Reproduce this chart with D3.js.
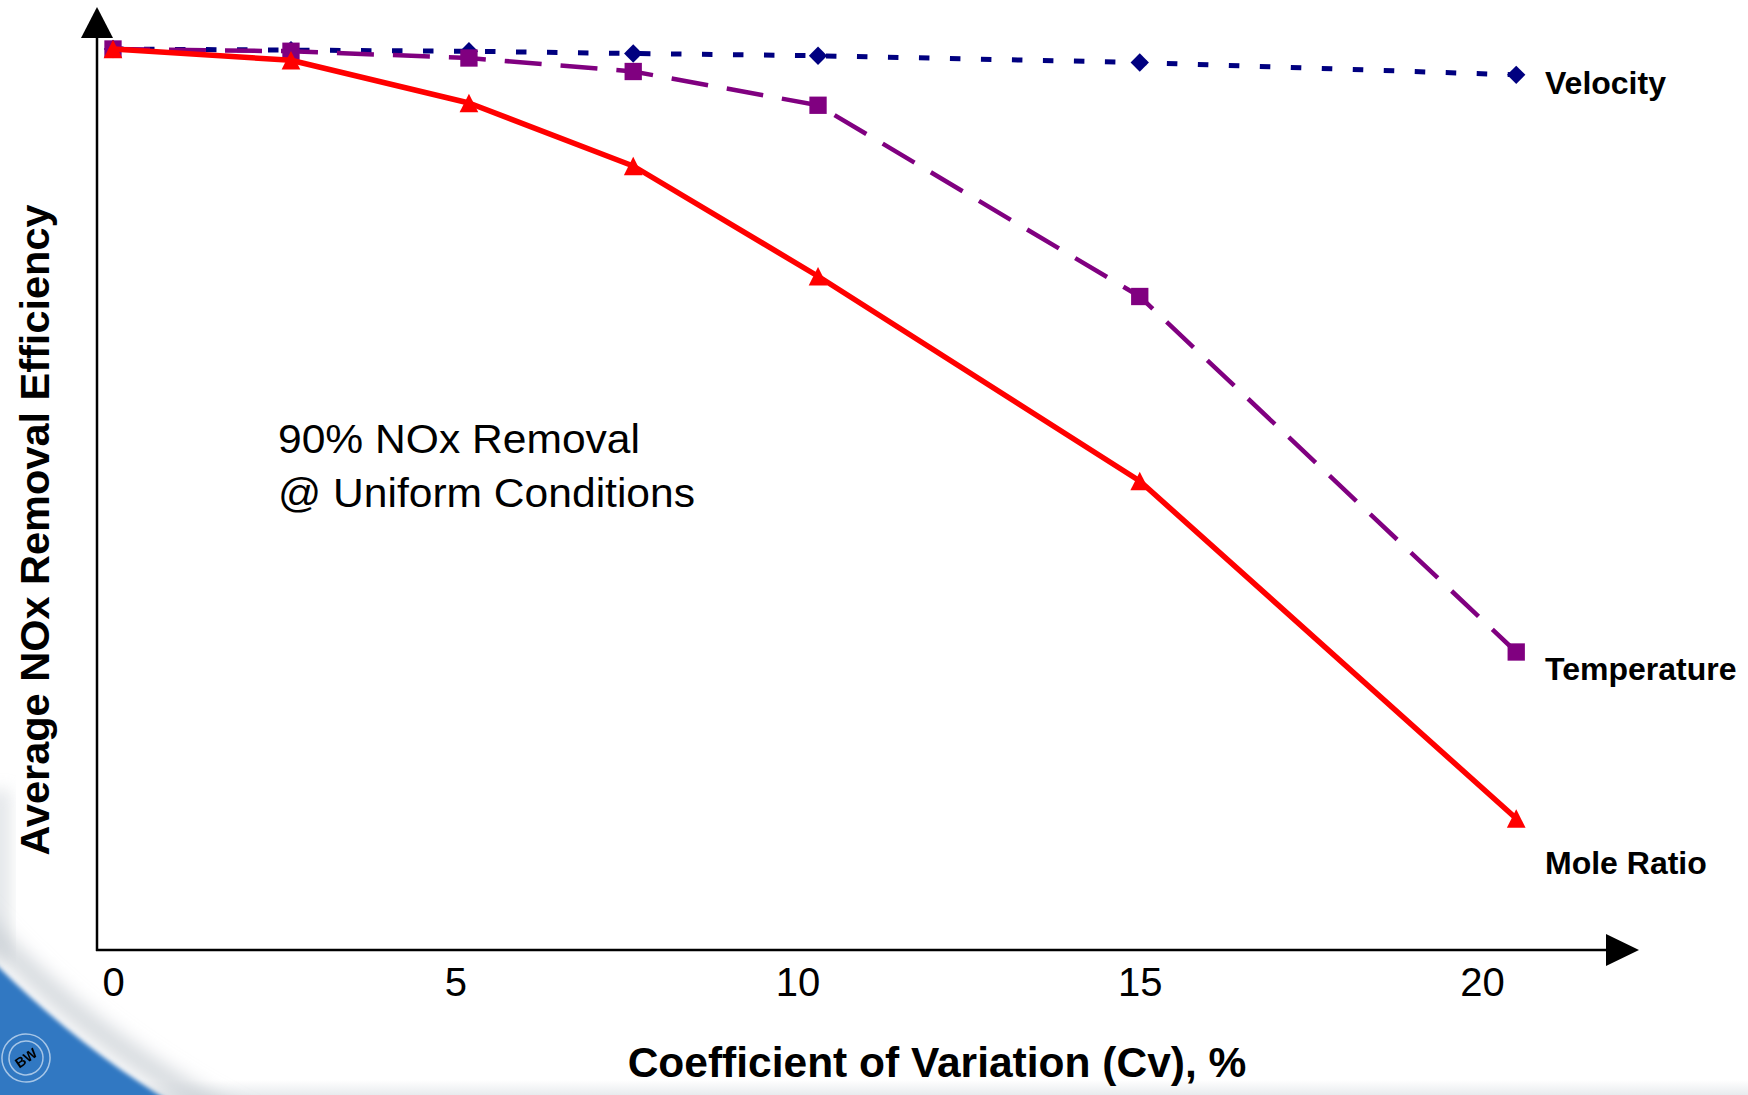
<!DOCTYPE html>
<html>
<head>
<meta charset="utf-8">
<script src="https://cdn.jsdelivr.net/npm/d3@7/dist/d3.min.js"></script>
<style>
  html, body { margin: 0; padding: 0; background: #ffffff; }
  svg { display: block; }
  text { font-family: "Liberation Sans", Arial, Helvetica, sans-serif; fill: #000; }
</style>
</head>
<body>
<svg id="chart" width="1748" height="1095"></svg>
<script>
// Coefficient of variation (%) at which each case was evaluated
const cv = [0, 2.6, 5.2, 7.6, 10.3, 15, 20.5];
// Average NOx removal efficiency (%) for each maldistribution type
const velocity    = [90, 89.95, 89.9, 89.8, 89.7, 89.4, 88.85];
const temperature = [90, 89.9, 89.6, 89.0, 87.5, 79.0, 63.2];
const moleRatio   = [90, 89.5, 87.6, 84.8, 79.9, 70.8, 55.8];
const seriesNames = ["Velocity", "Temperature", "Mole Ratio"];
const xTicks = [0, 5, 10, 15, 20];
const note = ["90% NOx Removal", "@ Uniform Conditions"];
const xTitle = "Coefficient of Variation (Cv), %";
const yTitle = "Average NOx Removal Efficiency";

const svg = d3.select("#chart");
const W = 1748, H = 1095;
const panel = { cx: 662, cy: 301, r: 940 };   // curved edge of the white slide panel

// ---- slide background: blue corner outside a curved white panel ----
const defs = svg.append("defs");
const blurFilter = (id, sd) => defs.append("filter").attr("id", id)
  .attr("x", "-30%").attr("y", "-30%").attr("width", "160%").attr("height", "160%")
  .append("feGaussianBlur").attr("stdDeviation", sd);
blurFilter("shade", 9);
blurFilter("edge", 2);
blurFilter("haze", 8);
defs.append("clipPath").attr("id", "corner")
  .append("rect").attr("x", 0).attr("y", 760).attr("width", 360).attr("height", 335);
const mask = defs.append("mask").attr("id", "outsidePanel")
  .attr("maskUnits", "userSpaceOnUse").attr("x", 0).attr("y", 0).attr("width", W).attr("height", H);
mask.append("rect").attr("x", 0).attr("y", 0).attr("width", W).attr("height", H).attr("fill", "#fff");
mask.append("circle").attr("cx", panel.cx).attr("cy", panel.cy).attr("r", panel.r)
  .attr("fill", "#000").attr("filter", "url(#edge)");
const band = defs.append("linearGradient").attr("id", "band").attr("x1", 0).attr("y1", 0).attr("x2", 0).attr("y2", 1);
band.append("stop").attr("offset", 0).attr("stop-color", "#ffffff");
band.append("stop").attr("offset", 1).attr("stop-color", "#e8ebee");

const bg = svg.append("g");
bg.append("rect").attr("x", 0).attr("y", 0).attr("width", W).attr("height", H).attr("fill", "#ffffff");
bg.append("rect").attr("x", 0).attr("y", 1080).attr("width", W).attr("height", 15).attr("fill", "url(#band)");
bg.append("rect").attr("x", -10).attr("y", 790).attr("width", 20).attr("height", 170)
  .attr("fill", "#cfd4d9").attr("opacity", 0.6).attr("filter", "url(#haze)");

// soft grey rim just inside the panel edge
bg.append("g").attr("clip-path", "url(#corner)")
  .append("circle").attr("cx", panel.cx).attr("cy", panel.cy).attr("r", panel.r - 18)
  .attr("fill", "none").attr("stroke", "#c4cad0").attr("stroke-width", 22)
  .attr("stroke-opacity", 0.7).attr("filter", "url(#shade)");

// blue corner, kept only outside the panel
const blue = bg.append("g").attr("mask", "url(#outsidePanel)");
blue.append("rect").attr("x", 0).attr("y", 880).attr("width", 260).attr("height", 215).attr("fill", "#3178c2");

// emblem in the blue corner
const emb = blue.append("g").attr("transform", "translate(26,1058) rotate(-35)")
  .attr("fill", "none").attr("stroke", "#cfe0f3").attr("stroke-opacity", 0.75).attr("stroke-width", 1.5);
emb.append("circle").attr("r", 24);
emb.append("circle").attr("r", 17);
emb.append("text").attr("x", 0).attr("y", 5).attr("text-anchor", "middle")
  .style("font-size", "14px").style("font-weight", "bold")
  .attr("fill", "#d6e6f5").attr("stroke", "none").text("BW");

// ---- scales ----
const x = d3.scaleLinear().domain([0, 20]).range([113, 1482]);
const y = d3.scaleLinear().domain([50, 90]).range([949, 49]);

// ---- axes with arrow heads ----
const axisG = svg.append("g");
const xAxisY = 950, yAxisX = 97;
axisG.append("line").attr("x1", yAxisX).attr("x2", yAxisX).attr("y1", xAxisY + 1).attr("y2", 36)
  .attr("stroke", "#000").attr("stroke-width", 2.5);
axisG.append("line").attr("x1", yAxisX - 1).attr("x2", 1608).attr("y1", xAxisY).attr("y2", xAxisY)
  .attr("stroke", "#000").attr("stroke-width", 2.5);
axisG.append("path").attr("d", `M${yAxisX},7 L${yAxisX + 16},38 L${yAxisX - 16},38 Z`).attr("fill", "#000");
axisG.append("path").attr("d", `M1639,${xAxisY} L1606,${xAxisY - 16} L1606,${xAxisY + 16} Z`).attr("fill", "#000");

const xAxis = d3.axisBottom(x).tickValues(xTicks).tickSize(0).tickPadding(18.5).tickFormat(d3.format("d"));
const gx = svg.append("g").attr("transform", `translate(0,${xAxisY - 1})`).call(xAxis);
gx.select(".domain").remove();
gx.selectAll("text").style("font-size", "40px").style("font-family", "'Liberation Sans', Arial, sans-serif").attr("fill", "#000");

// axis titles
svg.append("text").attr("x", 937).attr("y", 1077).attr("text-anchor", "middle")
  .style("font-size", "42.5px").style("font-weight", "bold").text(xTitle);
svg.append("text").attr("transform", "translate(49,530) rotate(-90)").attr("text-anchor", "middle")
  .style("font-size", "41.5px").style("font-weight", "bold").text(yTitle);

// ---- marker shapes ----
const tri = {
  draw(ctx, size) {
    const s = Math.sqrt(size);
    ctx.moveTo(0, -s / 2);
    ctx.lineTo(s / 2, s / 2);
    ctx.lineTo(-s / 2, s / 2);
    ctx.closePath();
  }
};

const series = [
  { name: seriesNames[0], values: velocity, color: "#000080", width: 5, dash: "10.5 20.5",
    symbol: d3.symbol(d3.symbolSquare, 168), rotate: 45, labelY: 94 },
  { name: seriesNames[1], values: temperature, color: "#800080", width: 4.5, dash: "37 19",
    symbol: d3.symbol(d3.symbolSquare, 300), rotate: 0, labelY: 680 },
  { name: seriesNames[2], values: moleRatio, color: "#ff0000", width: 5.5, dash: null,
    symbol: d3.symbol(tri, 350), rotate: 0, labelY: 874 }
];

const line = d3.line().x((d, i) => x(cv[i])).y(d => y(d));

series.forEach(s => {
  const g = svg.append("g");
  g.append("path").datum(s.values).attr("d", line)
    .attr("fill", "none").attr("stroke", s.color).attr("stroke-width", s.width)
    .attr("stroke-dasharray", s.dash).attr("stroke-linejoin", "round");
  g.selectAll("path.mk").data(s.values).join("path").attr("class", "mk")
    .attr("d", s.symbol)
    .attr("transform", (d, i) => `translate(${x(cv[i])},${y(d)}) rotate(${s.rotate})`)
    .attr("fill", s.color);
  svg.append("text").attr("x", 1545).attr("y", s.labelY)
    .style("font-size", "32px").style("font-weight", "bold").text(s.name);
});

// annotation
svg.append("text").attr("x", 278).attr("y", 453).style("font-size", "41px")
  .attr("textLength", 362).attr("lengthAdjust", "spacingAndGlyphs").text(note[0]);
svg.append("text").attr("x", 278).attr("y", 507).style("font-size", "41px")
  .attr("textLength", 417).attr("lengthAdjust", "spacingAndGlyphs").text(note[1]);
</script>
</body>
</html>
